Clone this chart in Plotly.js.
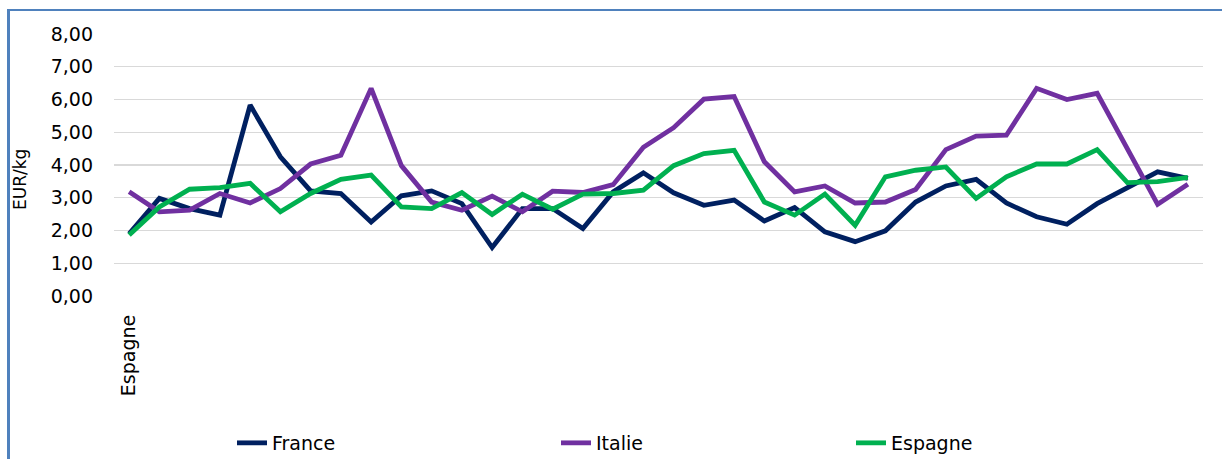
<!DOCTYPE html>
<html>
<head>
<meta charset="utf-8">
<script src="https://cdn.plot.ly/plotly-3.0.1.min.js"></script>
<style>
  html, body { margin: 0; padding: 0; background: #fff; }
  #wrap { position: relative; width: 1222px; height: 459px; overflow: hidden; }
  #chart { position: absolute; left: 0; top: 0; width: 1222px; height: 459px; }
  .frameTop { position: absolute; left: 7px; top: 9px; width: 1230px; height: 2px; background: #4f81bd; }
  .frameLeft { position: absolute; left: 7px; top: 9px; width: 2.5px; height: 470px; background: #4f81bd; }
</style>
</head>
<body>
<div id="wrap">
  <div id="chart"></div>
  <div class="frameTop"></div>
  <div class="frameLeft"></div>
</div>
<script>
// ---- data ----
var tickLabels = ['Espagne'];
var tickPositions = [0];

var france = [1.90, 2.98, 2.67, 2.47, 5.83, 4.25, 3.21, 3.13, 2.26, 3.06, 3.21, 2.82,
              1.48, 2.67, 2.67, 2.06, 3.18, 3.76, 3.15, 2.77, 2.93, 2.29, 2.70, 1.96,
              1.66, 1.99, 2.87, 3.36, 3.56, 2.84, 2.42, 2.19, 2.82, 3.31, 3.79, 3.59];
var italie = [3.18, 2.57, 2.62, 3.13, 2.84, 3.28, 4.03, 4.30, 6.34, 3.98, 2.87, 2.62,
              3.05, 2.57, 3.20, 3.16, 3.40, 4.54, 5.14, 6.01, 6.09, 4.10, 3.18, 3.36,
              2.84, 2.87, 3.25, 4.47, 4.88, 4.91, 6.34, 6.00, 6.19, 4.50, 2.80, 3.41];
var espagne = [1.86, 2.72, 3.26, 3.31, 3.44, 2.57, 3.13, 3.56, 3.69, 2.72, 2.67, 3.16,
               2.49, 3.11, 2.65, 3.11, 3.13, 3.23, 3.98, 4.35, 4.45, 2.87, 2.47, 3.11,
               2.16, 3.64, 3.84, 3.94, 2.98, 3.64, 4.03, 4.03, 4.47, 3.46, 3.49, 3.62];
var seriesNames = ['France', 'Italie', 'Espagne'];
var yTickVals = [0, 1, 2, 3, 4, 5, 6, 7, 8];
var yTickText = ['0,00', '1,00', '2,00', '3,00', '4,00', '5,00', '6,00', '7,00', '8,00'];

var idx = france.map(function (_, i) { return i; });
var colors = ['#002060', '#7030a0', '#00b050'];
var all = [france, italie, espagne];
var legendIds = ['legend', 'legend2', 'legend3'];

var traces = all.map(function (vals, k) {
  return {
    type: 'scatter', mode: 'lines', x: idx, y: vals, name: seriesNames[k],
    line: { color: colors[k], width: 4.8 },
    legend: legendIds[k], hoverinfo: 'skip'
  };
});

var font = 'DejaVu Sans, sans-serif';
var plotL = 114, plotW = 1089, plotB = 296, plotH = 262;
function px2x(p) { return (p - plotL) / plotW; }
function py2y(p) { return (plotB - p) / plotH; }

function legendAt(pxText) {
  return {
    orientation: 'h', xref: 'container', x: (pxText - 42) / 1222, xanchor: 'left',
    yref: 'container', y: (459 - 443) / 459, yanchor: 'middle',
    font: { family: font, size: 19, color: '#000' },
    bgcolor: 'rgba(0,0,0,0)', borderwidth: 0
  };
}

var layout = {
  width: 1222, height: 459,
  margin: { l: plotL, r: 1222 - plotL - plotW, t: 34, b: 459 - 296, autoexpand: false },
  paper_bgcolor: 'rgba(0,0,0,0)', plot_bgcolor: 'rgba(0,0,0,0)',
  showlegend: true,
  xaxis: {
    type: 'linear', range: [-0.5, 35.5], showgrid: false, zeroline: false, showline: false,
    tickvals: tickPositions, ticktext: tickLabels, tickangle: -90,
    ticks: '', ticklabelstandoff: 14, automargin: false,
    tickfont: { family: font, size: 19, color: '#000' }, fixedrange: true
  },
  yaxis: {
    range: [0, 8], tickvals: yTickVals, ticktext: yTickText,
    showgrid: true, gridcolor: '#d9d9d9', gridwidth: 1.4, automargin: false,
    zeroline: false, showline: false, ticks: '', ticklabelstandoff: 20,
    tickfont: { family: font, size: 19, color: '#000' }, fixedrange: true
  },
  legend: legendAt(274),
  legend2: legendAt(598),
  legend3: legendAt(893),
  annotations: [{
    text: 'EUR/kg', textangle: -90, xref: 'paper', yref: 'paper',
    x: px2x(20), y: py2y(180), xanchor: 'center', yanchor: 'middle',
    showarrow: false, font: { family: font, size: 17, color: '#000' }
  }]
};

Plotly.newPlot('chart', traces, layout, { staticPlot: true, displayModeBar: false });
</script>
</body>
</html>
